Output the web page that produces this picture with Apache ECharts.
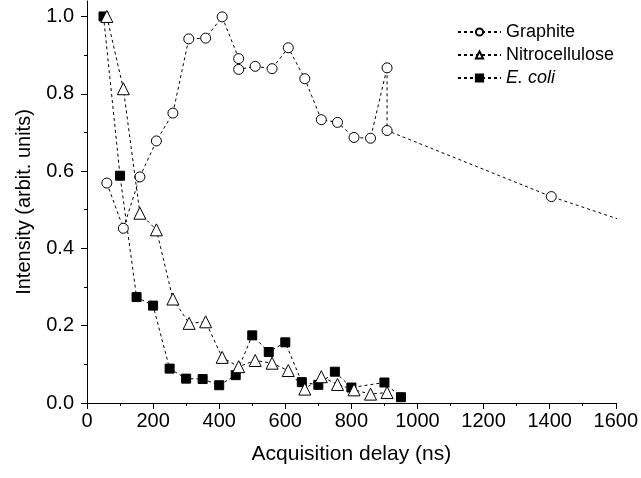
<!DOCTYPE html>
<html>
<head>
<meta charset="utf-8">
<script src="https://cdn.jsdelivr.net/npm/echarts@6/dist/echarts.min.js"></script>
<style>
html,body{margin:0;padding:0;background:#fff;}
#chart{width:641px;height:478px;}
</style>
</head>
<body>
<div id="chart"></div>
<script>
// Graphite (open circles); last point lies beyond the axis and is clipped
const graphiteX = [60,110,160,210,260,308,359,409,459,459,509,560,609,659,709,758,808,858,908,908,1405,1910];
const graphiteY = [0.569,0.452,0.585,0.678,0.750,0.942,0.944,0.999,0.891,0.863,0.871,0.865,0.919,0.839,0.733,0.726,0.687,0.685,0.867,0.705,0.534,0.389];
// Nitrocellulose (open triangles)
const nitroX = [60,110,160,210,260,309,359,409,459,509,560,609,659,709,758,808,858,908];
const nitroY = [1.0,0.813,0.491,0.448,0.269,0.206,0.210,0.118,0.094,0.110,0.103,0.084,0.036,0.068,0.048,0.034,0.023,0.027];
// E. coli (filled squares)
const ecoliX = [50,100,150,200,250,300,350,400,450,500,550,600,650,700,750,800,900,950];
const ecoliY = [1.0,0.588,0.274,0.252,0.089,0.063,0.062,0.046,0.072,0.175,0.132,0.157,0.054,0.047,0.081,0.040,0.053,0.015];
// Axis ticks
const yMajorTicks = [0,0.2,0.4,0.6,0.8,1.0];
const yMinorTicks = [0.1,0.3,0.5,0.7,0.9];
const seriesNames = ['Graphite','Nitrocellulose','E. coli'];

const zip = (xs, ys) => xs.map((x, i) => [x, ys[i]]);
const FONT = 'Liberation Sans, Arial, sans-serif';
const dashed = {color:'#000', width:1, type:[3,3]};

const chart = echarts.init(document.getElementById('chart'), null, {renderer:'canvas'});
chart.setOption({
  animation:false,
  backgroundColor:'#fff',
  textStyle:{fontFamily:FONT, color:'#000'},
  grid:{left:87, right:24, top:1, bottom:75, containLabel:false},
  legend:{
    orient:'vertical', left:452, top:18, itemWidth:43, itemHeight:9, itemGap:5,
    data:seriesNames,
    textStyle:{fontFamily:FONT, fontSize:18, color:'#000',
      rich:{i:{fontStyle:'italic', fontFamily:FONT, fontSize:18, color:'#000'}}},
    formatter: n => n === 'E. coli' ? '{i|E. coli}' : n
  },
  xAxis:{
    type:'value', min:0, max:1600, interval:200,
    name:'Acquisition delay (ns)', nameLocation:'middle', nameGap:41,
    nameTextStyle:{fontFamily:FONT, fontSize:21, color:'#000'},
    axisLine:{show:true, onZero:false, lineStyle:{color:'#000', width:1}},
    axisTick:{show:true, length:6, lineStyle:{color:'#000'}},
    minorTick:{show:true, splitNumber:2, length:3, lineStyle:{color:'#000'}},
    axisLabel:{fontFamily:FONT, fontSize:20, color:'#000', margin:8, formatter: v => String(v)},
    splitLine:{show:false}
  },
  yAxis:[{
    type:'value', min:0, max:1.04, position:'left',
    name:'Intensity (arbit. units)', nameLocation:'middle', nameGap:53,
    nameTextStyle:{fontFamily:FONT, fontSize:20, color:'#000'},
    axisLine:{show:true, onZero:false, lineStyle:{color:'#000', width:1}},
    axisTick:{show:true, length:6, customValues:yMajorTicks, lineStyle:{color:'#000'}},
    axisLabel:{fontFamily:FONT, fontSize:20, color:'#000', margin:13, customValues:yMajorTicks,
      formatter: v => v.toFixed(1)},
    splitLine:{show:false}
  },{
    type:'value', min:0, max:1.04, position:'left',
    axisLine:{show:false},
    axisTick:{show:true, length:3, customValues:yMinorTicks, lineStyle:{color:'#000'}},
    axisLabel:{show:false, customValues:yMinorTicks},
    splitLine:{show:false}
  }],
  series:[
    {name:'Graphite', type:'line', data:zip(graphiteX, graphiteY), clip:true, z:3,
     symbol:'circle', symbolSize:10, lineStyle:dashed,
     itemStyle:{color:'#fff', borderColor:'#000', borderWidth:1}},
    {name:'Nitrocellulose', type:'line', data:zip(nitroX, nitroY), clip:true, z:4,
     symbol:'triangle', symbolSize:12, lineStyle:dashed,
     itemStyle:{color:'#fff', borderColor:'#000', borderWidth:1}},
    {name:'E. coli', type:'line', data:zip(ecoliX, ecoliY), clip:true, z:2,
     symbol:'rect', symbolSize:9, lineStyle:dashed,
     itemStyle:{color:'#000', borderColor:'#000', borderWidth:1}}
  ]
});
</script>
</body>
</html>
